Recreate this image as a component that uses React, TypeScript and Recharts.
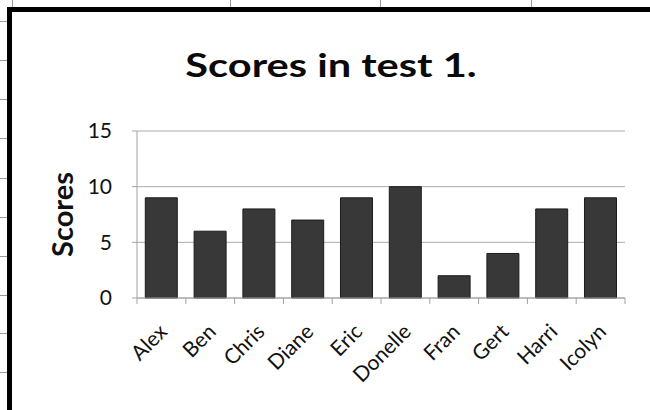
import React from "react";
import { BarChart, Bar, XAxis, YAxis, CartesianGrid } from "recharts";

// test 1 results, one bar per pupil
const names = ["Alex", "Ben", "Chris", "Diane", "Eric", "Donelle", "Fran", "Gert", "Harri", "Icolyn"];
const scores = [9, 6, 8, 7, 9, 10, 2, 4, 8, 9];
const scoreTicks = [0, 5, 10, 15];

const data = names.map((name, i) => ({ name, score: scores[i] }));

const FONT = "Lato, 'Open Sans', sans-serif";
const AXIS_GREY = "#a3a3a3";

// spreadsheet cell lines peeking out round the chart object
const sheetCols = [12, 230, 380, 531];
const sheetRows = [21, 60, 99, 138, 178, 217, 256, 295, 333, 372];

/**
 * Category tick: Excel puts the tick marks between categories,
 * so the mark sits half a band to the left of the label.
 */
function NameTick(props: any) {
  const { x, y, payload, index } = props;
  const half = payload?.offset ?? 0;
  const last = index === names.length - 1;
  const tx = x + 7;
  const ty = y + 35;
  return (
    <g>
      <line x1={x - half} x2={x - half} y1={y} y2={y + 6} stroke={AXIS_GREY} />
      {last && <line x1={x + half} x2={x + half} y1={y} y2={y + 6} stroke={AXIS_GREY} />}
      <text
        x={tx}
        y={ty}
        transform={`rotate(-45 ${tx} ${ty})`}
        textAnchor="end"
        fontFamily={FONT}
        fontSize={21}
        fill="#111"
      >
        {payload.value}
      </text>
    </g>
  );
}

function ScoresLabel(props: any) {
  const vb = props.viewBox || { y: 0, height: 0 };
  const cy = vb.y + vb.height / 2;
  return (
    <text
      x={61}
      y={cy}
      transform={`rotate(-90 61 ${cy})`}
      textAnchor="middle"
      dominantBaseline="central"
      fontFamily={FONT}
      fontWeight={700}
      fontSize={29}
      fill="#111"
    >
      Scores
    </text>
  );
}

export default function App() {
  return (
    <div
      style={{
        position: "fixed",
        left: 0,
        top: 0,
        width: 650,
        height: 410,
        overflow: "hidden",
        background: "#fff",
      }}
    >
      {sheetCols.map((x) => (
        <div key={"c" + x} style={{ position: "absolute", left: x, top: 0, width: 1, height: 7, background: "#9a9a9a" }} />
      ))}
      {sheetRows.map((y) => (
        <div key={"r" + y} style={{ position: "absolute", left: 0, top: y, width: 7, height: 1, background: "#9a9a9a" }} />
      ))}

      {/* chart object frame */}
      <div
        style={{
          position: "absolute",
          left: 7,
          top: 7,
          width: 680,
          height: 440,
          border: "5px solid #000",
          boxSizing: "border-box",
        }}
      />

      <div
        style={{
          position: "absolute",
          left: 0,
          top: 44,
          width: 662,
          textAlign: "center",
          fontFamily: FONT,
          fontWeight: 700,
          fontSize: 33,
          lineHeight: "40px",
          color: "#0a0a0a",
          transform: "scaleX(1.26)",
          transformOrigin: "331px 0",
        }}
      >
        Scores in test 1.
      </div>

      <div style={{ position: "absolute", left: 0, top: 0 }}>
        <BarChart
          width={650}
          height={410}
          data={data}
          margin={{ top: 131, right: 25, bottom: 0, left: 0 }}
          barCategoryGap="17%"
        >
          <CartesianGrid vertical={false} stroke="#ababab" />
          <XAxis
            dataKey="name"
            interval={0}
            height={112}
            tickLine={false}
            tickSize={0}
            tickMargin={0}
            axisLine={{ stroke: AXIS_GREY }}
            tick={<NameTick />}
          />
          <YAxis
            width={137}
            domain={[0, 15]}
            ticks={scoreTicks}
            interval={0}
            tickSize={5}
            tickMargin={20}
            tickLine={{ stroke: AXIS_GREY }}
            axisLine={{ stroke: AXIS_GREY }}
            tick={{ fontFamily: FONT, fontSize: 21, fill: "#111" }}
            label={{ content: <ScoresLabel /> }}
          />
          <Bar dataKey="score" fill="#383838" stroke="#1c1c1c" strokeWidth={1} isAnimationActive={false} />
        </BarChart>
      </div>
    </div>
  );
}
